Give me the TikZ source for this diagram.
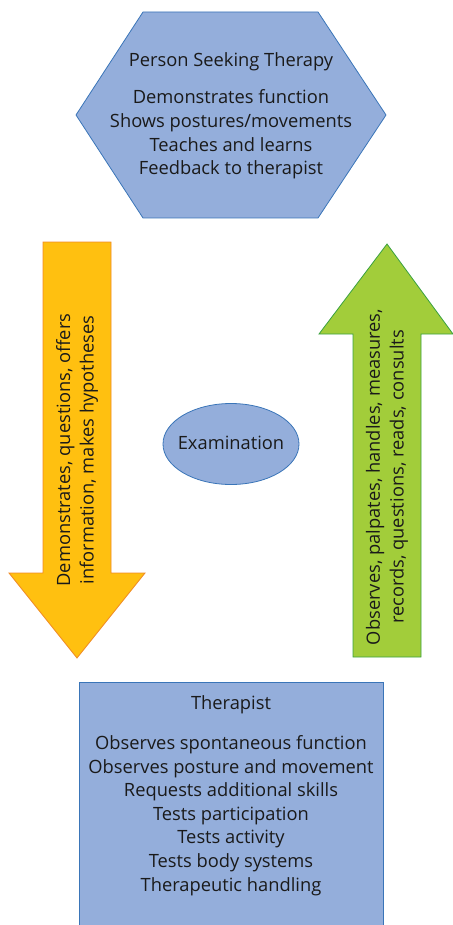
\documentclass[tikz,border=0pt]{standalone}
\usepackage{fontspec}
\setmainfont{Open Sans}
\definecolor{boxfill}{HTML}{94AEDB}
\definecolor{boxline}{HTML}{3A75B8}
\definecolor{orfill}{HTML}{FFC010}
\definecolor{orline}{HTML}{F08A24}
\definecolor{grfill}{HTML}{A2CD3A}
\definecolor{grline}{HTML}{3AA140}
\definecolor{txt}{HTML}{1A1A1A}
\tikzset{
  shapebox/.style={fill=boxfill, draw=boxline, line width=0.8pt},
  orarrow/.style={fill=orfill, draw=orline, line width=0.8pt},
  grarrow/.style={fill=grfill, draw=grline, line width=0.8pt},
  lbl/.style={text=txt, align=center, font=\fontsize{18.3}{23.6}\selectfont, inner sep=0pt},
}
\begin{document}
\begin{tikzpicture}[x=1pt,y=-1pt]
\useasboundingbox (0,0) rectangle (452,925);
% hexagon
\draw[shapebox] (143,12) -- (318,12) -- (386,115) -- (318,218) -- (143,218) -- (76,115) -- cycle;
\node[lbl] (person) at (231,62) {Person Seeking Therapy};
\node[lbl] (persontasks) at (231,134.5) {Demonstrates function\\Shows postures/movements\\Teaches and learns\\Feedback to therapist};
% orange arrow (down)
\draw[orarrow] (43,242) -- (111,242) -- (111,573) -- (145,573) -- (77,658) -- (9,573) -- (43,573) -- cycle;
\node[lbl, rotate=90] (down) at (77,450) {Demonstrates, questions, offers\\information, makes hypotheses};
% green arrow (up)
\draw[grarrow] (387,244) -- (453,334) -- (421,334) -- (421,657) -- (353,657) -- (353,334) -- (319,334) -- cycle;
\node[lbl, rotate=90] (up) at (387,477) {Observes, palpates, handles, measures,\\records, questions, reads, consults};
% ellipse
\draw[shapebox] (231,444) ellipse [x radius=68, y radius=40.5];
\node[lbl] (exam) at (231,443) {Examination};
% rectangle
\draw[shapebox] (79,682) rectangle (383,940);
\node[lbl] (ther) at (231,705) {Therapist};
\node[lbl] (thertasks) at (231,815.5) {Observes spontaneous function\\Observes posture and movement\\Requests additional skills\\Tests participation\\Tests activity\\Tests body systems\\Therapeutic handling};
\end{tikzpicture}
\end{document}
